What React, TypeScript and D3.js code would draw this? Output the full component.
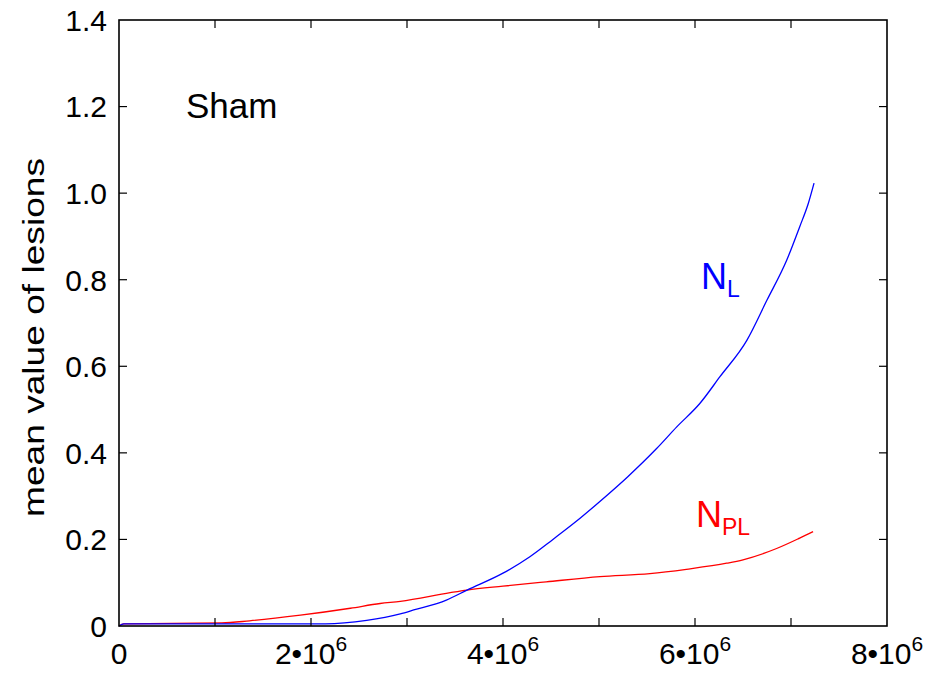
import React from "react";
import * as d3 from "d3";

const xTicksMajor = [0, 2e6, 4e6, 6e6, 8e6];
const xTicksAll = [0, 1e6, 2e6, 3e6, 4e6, 5e6, 6e6, 7e6, 8e6];
const yTicks = [0, 0.2, 0.4, 0.6, 0.8, 1.0, 1.2, 1.4];
const yTickLabels = ["0", "0.2", "0.4", "0.6", "0.8", "1.0", "1.2", "1.4"];

// N_L (blue)
const nlX = [0, 0.05e6, 1.0e6, 2.15e6, 2.58e6, 2.93e6, 3.07e6, 3.41e6, 3.625e6, 4.0e6, 4.28e6, 4.52e6, 4.77e6, 5.0e6, 5.3e6, 5.6e6, 5.81e6, 6.05e6, 6.26e6, 6.54e6, 6.75e6, 6.955e6, 7.09e6, 7.18e6, 7.24e6];
const nlY = [0, 0.005, 0.005, 0.005, 0.013, 0.028, 0.037, 0.06, 0.083, 0.122, 0.16, 0.2, 0.243, 0.286, 0.345, 0.41, 0.46, 0.514, 0.576, 0.66, 0.753, 0.845, 0.922, 0.976, 1.023];

// N_PL (red)
const nplX = [0, 0.05e6, 1.07e6, 1.36e6, 1.89e6, 2.41e6, 2.72e6, 2.93e6, 3.45e6, 3.625e6, 4.0e6, 4.45e6, 5.01e6, 5.53e6, 5.91e6, 6.33e6, 6.5e6, 6.85e6, 7.09e6, 7.23e6];
const nplY = [0, 0.005, 0.007, 0.012, 0.025, 0.041, 0.052, 0.057, 0.077, 0.083, 0.092, 0.102, 0.114, 0.121, 0.131, 0.145, 0.153, 0.179, 0.203, 0.218];

const FONT = "'Liberation Sans', Arial, Helvetica, sans-serif";

export default function App() {
  const W = 937, H = 674;
  const L = 119, R = 887, T = 20, B = 626;
  const x = d3.scaleLinear().domain([0, 8e6]).range([L, R]);
  const y = d3.scaleLinear().domain([0, 1.4]).range([B, T]);
  const line = d3.line<[number, number]>().x(d => x(d[0])).y(d => y(d[1])).curve(d3.curveMonotoneX);
  const nl = nlX.map((v, i) => [v, nlY[i]] as [number, number]);
  const npl = nplX.map((v, i) => [v, nplY[i]] as [number, number]);
  const tl = 8;

  return (
    <svg width={W} height={H} style={{ position: "absolute", left: 0, top: 0, background: "#fff" }} fontFamily={FONT}>
      <rect x={0} y={0} width={W} height={H} fill="#fff" />
      <path d={line(npl) || ""} fill="none" stroke="#ff0000" strokeWidth={1.3} />
      <path d={line(nl) || ""} fill="none" stroke="#0000ff" strokeWidth={1.3} />
      <rect x={L} y={T} width={R - L} height={B - T} fill="none" stroke="#000" strokeWidth={1.6} />
      {xTicksAll.slice(1, -1).map(t => (
        <g key={"xt" + t}>
          <line x1={x(t)} x2={x(t)} y1={B} y2={B - tl} stroke="#000" strokeWidth={1.2} />
          <line x1={x(t)} x2={x(t)} y1={T} y2={T + tl} stroke="#000" strokeWidth={1.2} />
        </g>
      ))}
      {yTicks.slice(1, -1).map(t => (
        <g key={"yt" + t}>
          <line x1={L} x2={L + tl} y1={y(t)} y2={y(t)} stroke="#000" strokeWidth={1.2} />
          <line x1={R} x2={R - tl} y1={y(t)} y2={y(t)} stroke="#000" strokeWidth={1.2} />
        </g>
      ))}
      {yTicks.map((t, i) => (
        <text key={"yl" + t} x={107} y={y(t)} dy="0.36em" textAnchor="end" fontSize={30} fill="#000">
          {yTickLabels[i]}
        </text>
      ))}
      {xTicksMajor.map(t => (
        <text key={"xl" + t} x={x(t)} y={664} textAnchor="middle" fontSize={30} fill="#000">
          {t === 0 ? "0" : (
            <>
              {`${t / 1e6}•10`}
              <tspan fontSize={21} dy={-13}>6</tspan>
            </>
          )}
        </text>
      ))}
      <text x={44} y={337.5} transform="rotate(-90 44 337.5)" textAnchor="middle" fontSize={30} textLength={359} lengthAdjust="spacingAndGlyphs" fill="#000">
        mean value of lesions
      </text>
      <text x={186} y={118} fontSize={35} fill="#000">Sham</text>
      <text x={701} y={289} fontSize={36} fill="#0000ff">
        N<tspan fontSize={23} dy={8}>L</tspan>
      </text>
      <text x={696} y={527} fontSize={36} fill="#ff0000">
        N<tspan fontSize={23} dy={8}>PL</tspan>
      </text>
    </svg>
  );
}
